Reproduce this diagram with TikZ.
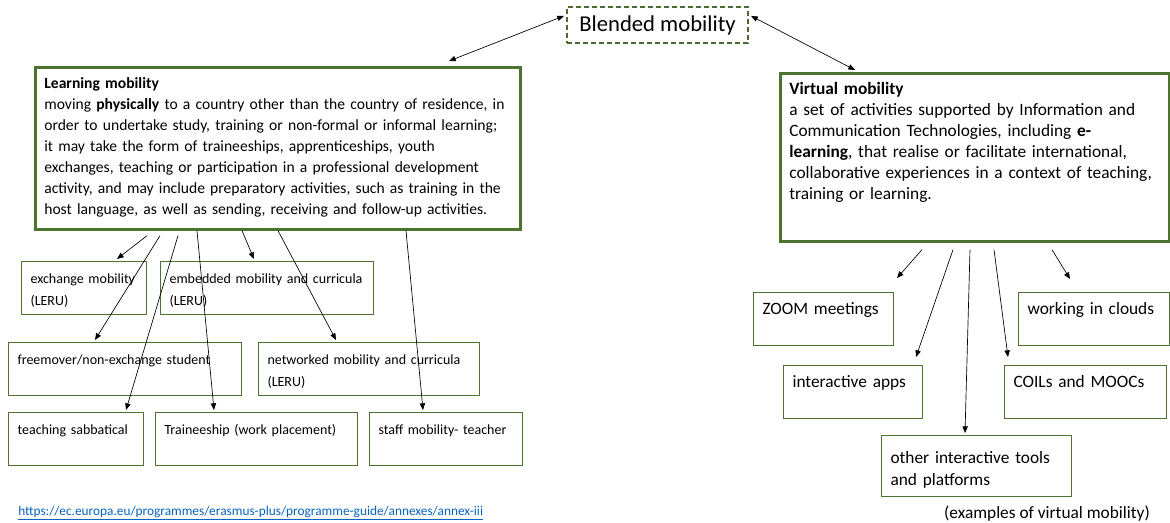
\documentclass[tikz,border=0pt]{standalone}
\usepackage{fontspec}
\setmainfont{Carlito}
\usetikzlibrary{arrows.meta,calc}
\definecolor{boxgreen}{RGB}{76,115,48}
\definecolor{dashgreen}{RGB}{74,107,48}
\definecolor{linkblue}{RGB}{5,99,193}
\tikzset{
  kid/.style={draw=boxgreen, line width=0.8pt, anchor=north west, align=left,
    inner xsep=6.75pt, inner ysep=6pt, text height=10.5pt, text depth=17.25pt,
    font=\fontsize{10.5}{16.5}\selectfont},
  vkid/.style={kid, font=\fontsize{13}{16.5}\selectfont},
  bigbox/.style={draw=boxgreen, line width=2pt, anchor=north west, align=left,
    inner xsep=6.75pt, inner ysep=6pt, text height=10pt,
    font=\fontsize{11.7}{15.75}\selectfont},
  blend/.style={draw=dashgreen, line width=1.6pt, dash pattern=on 4pt off 2pt,
    minimum width=135.75pt, minimum height=27pt, font=\fontsize{17}{19}\selectfont},
  arr/.style={-{Triangle[length=5pt,width=4pt]}, line width=0.5pt},
  twoway/.style={{Triangle[length=5pt,width=4pt]}-{Triangle[length=5pt,width=4pt]}, line width=0.5pt},
}
\begin{document}
\begin{tikzpicture}[x=0.75pt,y=-0.75pt]
\useasboundingbox (0,0) rectangle (1170,522);

\node[blend] (blended) at (657.5,25) {Blended mobility};

\node[bigbox, text width=350.25pt, text depth=99.5pt] (learn) at (34,66)
  {\textbf{Learning mobility}\\
   moving \textbf{physically} to a country other than the country of residence, in\\
   order to undertake study, training or non-formal or informal learning;\\
   it may take the form of traineeships, apprenticeships, youth\\
   exchanges, teaching or participation in a professional development\\
   activity, and may include preparatory activities, such as training in the\\
   host language, as well as sending, receiving and follow-up activities.};
\node[bigbox, text width=278.25pt, text depth=104pt, font=\fontsize{13}{15.75}\selectfont] (virtual) at (779,72)
  {\textbf{Virtual mobility}\\
   a set of activities supported by Information and\\
   Communication Technologies, including \textbf{e-}\\
   \textbf{learning}, that realise or facilitate international,\\
   collaborative experiences in a context of teaching,\\
   training or learning.};

\node[kid, text width=80.25pt] (exch) at (21,261) {\mbox{exchange mobility}\\(LERU)};
\node[kid, text width=146.25pt] (embed) at (160,261) {\mbox{embedded mobility and curricula}\\(LERU)};
\node[kid, text width=161.25pt] (free) at (8,342) {freemover/non-exchange student};
\node[kid, text width=152.25pt] (netw) at (258,342) {\mbox{networked mobility and curricula}\\(LERU)};
\node[kid, text width=87.75pt] (sabb) at (8,412) {teaching sabbatical};
\node[kid, text width=138pt] (train) at (155,412) {Traineeship (work placement)};
\node[kid, text width=101.25pt] (staff) at (369,412) {staff mobility- teacher};

\node[vkid, text width=91.5pt] (zoom) at (753,292) {ZOOM meetings};
\node[vkid, text width=99.75pt] (clouds) at (1018,292) {working in clouds};
\node[vkid, text width=90.75pt] (apps) at (783,365) {interactive apps};
\node[vkid, text width=108pt] (coils) at (1004,365) {COILs and MOOCs};
\node[vkid, text width=129pt, text height=15pt, text depth=18.75pt] (tools) at (881,435) {other interactive tools\\and platforms};

\node[anchor=base west, text=linkblue, font=\fontsize{10}{11}\selectfont, inner sep=0pt] (src) at (18,515)
  {\underline{https://ec.europa.eu/programmes/erasmus-plus/programme-guide/annexes/annex-iii}};
\node[font=\fontsize{13}{14}\selectfont, inner sep=0pt] (note) at (1047,514) {(examples of virtual mobility)};

\draw[twoway] ($(blended.north west)+(-2,10)$) -- ($(learn.north west)+(415,-5)$);
\draw[twoway] ($(blended.north east)+(2,10)$) -- ($(virtual.north west)+(76,-2)$);

\draw[arr] ($(learn.south west)+(113,5)$) -- ($(exch.north west)+(96,-2)$);
\draw[arr] ($(learn.south west)+(126,5)$) -- ($(free.north west)+(87,-2)$);
\draw[arr] ($(learn.south west)+(144,5)$) -- ($(sabb.north west)+(118,-2)$);
\draw[arr] ($(learn.south west)+(163,0)$) -- ($(train.north west)+(59,-2)$);
\draw[arr] ($(learn.south west)+(208,0)$) -- ($(embed.north west)+(94,-2)$);
\draw[arr] ($(learn.south west)+(244,0)$) -- ($(netw.north west)+(78,-2)$);
\draw[arr] ($(learn.south west)+(372,0)$) -- ($(staff.north west)+(54,-2)$);

\draw[arr] ($(virtual.south west)+(143,7)$) -- ($(zoom.north west)+(144,-14)$);
\draw[arr] ($(virtual.south west)+(174,7)$) -- ($(apps.north west)+(133,-8)$);
\draw[arr] ($(virtual.south west)+(191,7)$) -- ($(tools.north west)+(84,-2)$);
\draw[arr] ($(virtual.south west)+(215,7)$) -- ($(coils.north west)+(4,-8)$);
\draw[arr] ($(virtual.south west)+(273,7)$) -- ($(clouds.north west)+(52,-13)$);
\end{tikzpicture}
\end{document}
